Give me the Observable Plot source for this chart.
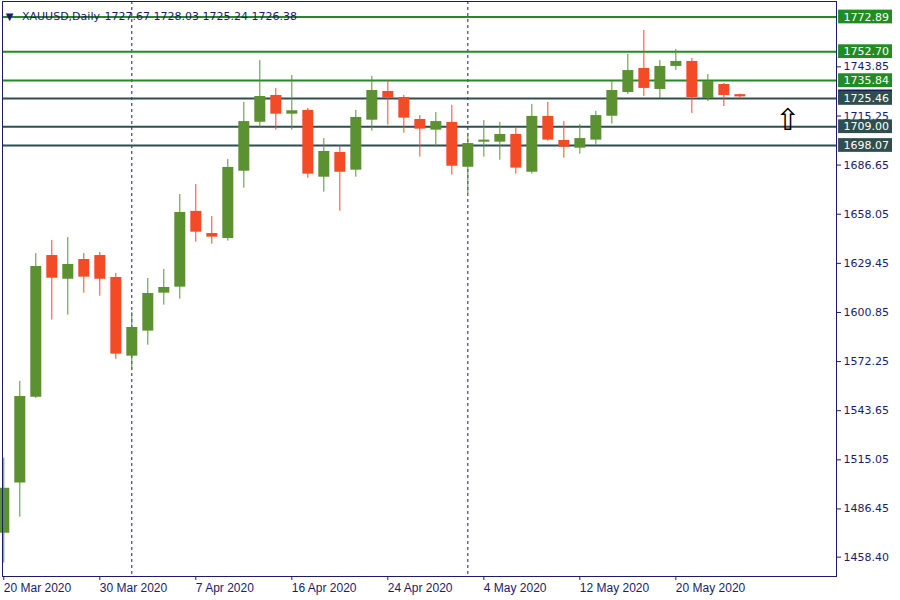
<!DOCTYPE html>
<html><head><meta charset="utf-8">
<script src="https://cdn.jsdelivr.net/npm/d3@7"></script>
<script src="https://cdn.jsdelivr.net/npm/@observablehq/plot@0.6"></script>
<style>html,body{margin:0;padding:0;background:#fff;} svg{display:block}</style>
</head><body><div id="chart"></div>
<script>
// Daily XAUUSD candles (trading-day index 0 = 20 Mar 2020)
const open  = [1472.3,1501.5,1551.5,1634.0,1620.2,1631.7,1634.0,1621.2,1575.4,1590.0,1612.1,1615.6,1659.7,1646.8,1643.9,1683.1,1711.6,1727.2,1716.3,1718.5,1679.6,1694.0,1683.7,1712.8,1729.5,1726.0,1713.2,1707.0,1711.5,1685.4,1700.0,1700.0,1704.5,1682.5,1715.0,1701.0,1696.5,1701.2,1715.1,1728.9,1742.9,1730.7,1744.1,1747.0,1725.4,1733.6,1727.67];
const high  = [1516.0,1560.7,1635.2,1642.8,1644.5,1635.2,1635.8,1623.5,1600.8,1620.6,1625.9,1669.5,1675.4,1656.7,1689.9,1723.1,1747.6,1731.3,1738.8,1719.6,1702.1,1697.7,1718.5,1738.3,1735.9,1727.2,1715.5,1717.3,1721.4,1705.1,1712.6,1711.5,1708.0,1722.0,1723.1,1712.0,1710.3,1717.9,1735.3,1751.1,1765.0,1747.6,1754.0,1748.7,1739.4,1734.2,1728.03];
const low   = [1454.9,1481.6,1550.8,1596.4,1599.3,1612.1,1610.3,1573.6,1566.9,1581.8,1605.1,1608.6,1641.8,1640.6,1642.4,1673.2,1708.1,1707.0,1707.0,1679.0,1670.9,1659.8,1679.6,1706.4,1709.9,1705.2,1691.3,1697.1,1680.8,1669.7,1691.3,1689.5,1681.4,1681.4,1700.6,1690.7,1693.0,1698.3,1710.5,1727.8,1726.6,1725.4,1741.7,1716.7,1723.7,1720.8,1725.24];
const close = [1498.5,1551.9,1627.6,1620.8,1628.8,1621.4,1620.2,1576.6,1592.1,1611.9,1615.4,1659.1,1647.6,1644.7,1685.3,1712.0,1726.6,1716.3,1718.3,1681.4,1694.6,1682.5,1714.4,1730.1,1725.6,1714.0,1707.6,1712.0,1686.0,1699.2,1701.2,1704.5,1684.9,1715.0,1701.2,1697.1,1702.1,1715.5,1730.1,1741.7,1731.3,1744.1,1747.0,1726.0,1735.3,1727.2,1726.38];

const dateLabels = ["20 Mar 2020","30 Mar 2020","7 Apr 2020","16 Apr 2020","24 Apr 2020","4 May 2020","12 May 2020","20 May 2020"];
const dateLabelIdx = [0,6,12,18,24,30,36,42];
const monthStartIdx = [8,29];           // 1 Apr, 1 May
const priceTicks = [1458.40,1486.45,1515.05,1543.65,1572.25,1600.85,1629.45,1658.05,1686.65,1715.25,1743.85];
const levelValues = [1772.89,1752.70,1735.84,1725.46,1709.00,1698.07];
const levelKinds  = ["res","res","res","sup","sup","sup"];
const bidPrice = 1726.38;
const arrowIdx = 49, arrowPrice = 1712.9;
const titleSymbol = "XAUUSD,Daily";
const titleOHLC = "1727.67 1728.03 1725.24 1726.38";

const GREEN = "#5b9130", RED = "#f24b26", NAVY = "#1c1b6b";
const LEVEL_COLOR = {res: "#228b22", sup: "#2f4f4f"};

const candles = open.map((o, i) => ({i, o, h: high[i], l: low[i], c: close[i], up: close[i] >= o}));
const levels = levelValues.map((v, k) => ({v, kind: levelKinds[k]}));

const xDom = [-0.081, 52.04];
const boxX1 = xDom[1] + 0.13, boxX2 = xDom[1] + 3.5, boxHalf = 4.0;

const chart = Plot.plot({
  width: 900, height: 600,
  marginLeft: 2, marginRight: 64, marginTop: 1, marginBottom: 24,
  style: {fontFamily: "DejaVu Sans", fontSize: "11px", color: NAVY, background: "#fff"},
  x: {domain: xDom, axis: null, label: null},
  y: {domain: [1447.12, 1781.91], axis: null, label: null},
  marks: [
    Plot.ruleX(monthStartIdx, {x: d => d, stroke: NAVY, strokeWidth: 1, strokeDasharray: "3,3"}),
    Plot.ruleY(levels, {y: "v", stroke: d => LEVEL_COLOR[d.kind], strokeWidth: 2}),
    Plot.ruleX(candles, {x: "i", y1: "l", y2: "h", stroke: d => d.up ? GREEN : RED, strokeWidth: 1}),
    Plot.ruleX(candles, {x: "i", y1: "o", y2: "c", stroke: d => d.up ? GREEN : RED, strokeWidth: 11}),
    Plot.axisY({anchor: "right", label: null, ticks: priceTicks, tickFormat: d => d.toFixed(2), tickSize: 4, tickPadding: 3, stroke: NAVY, fill: NAVY, fontFamily: "DejaVu Sans", fontSize: 11}),
    Plot.axisX({anchor: "bottom", label: null, ticks: dateLabelIdx, tickFormat: d => dateLabels[dateLabelIdx.indexOf(d)], tickSize: 4, tickPadding: 3, textAnchor: "start", stroke: NAVY, fill: NAVY, fontFamily: "Liberation Sans Narrow, Liberation Sans", fontSize: 12}),
    Plot.rect([bidPrice], {x1: () => boxX1, x2: () => boxX2, y1: d => d - boxHalf, y2: d => d + boxHalf, fill: "#1a1a5a"}),
    Plot.rect(levels, {x1: () => boxX1, x2: () => boxX2, y1: d => d.v - boxHalf, y2: d => d.v + boxHalf, fill: d => LEVEL_COLOR[d.kind]}),
    Plot.text(levels, {y: "v", text: d => d.v.toFixed(2), frameAnchor: "right", dx: 7, textAnchor: "start", fill: "white", fontSize: 11}),
    Plot.text([arrowPrice], {x: () => arrowIdx, y: d => d, text: () => "⇧", fontSize: 30, fill: "black"}),
    Plot.text(["▼"], {frameAnchor: "top-left", dx: 7, dy: 11, textAnchor: "middle", fontSize: 10, fill: NAVY}),
    Plot.text([titleSymbol], {frameAnchor: "top-left", dx: 19.5, dy: 11, textAnchor: "start", fill: NAVY, fontSize: 11}),
    Plot.text([titleOHLC], {frameAnchor: "top-left", dx: 102, dy: 11, textAnchor: "start", fill: NAVY, fontSize: 11}),
    Plot.frame({stroke: NAVY, strokeWidth: 1})
  ]
});
document.getElementById("chart").appendChild(chart);
</script>
</body></html>
